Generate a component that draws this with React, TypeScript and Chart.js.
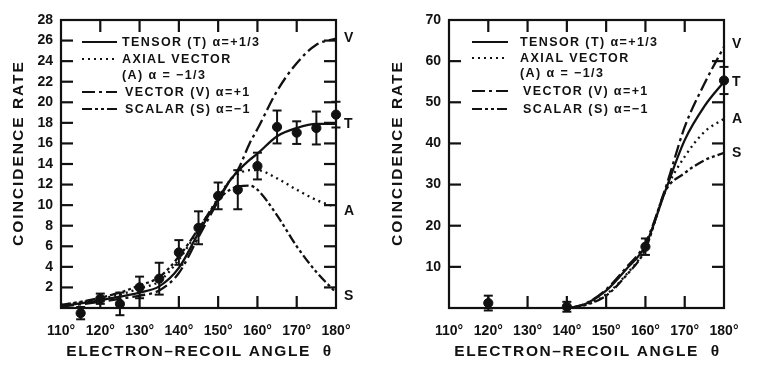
import React, { useEffect, useRef } from 'react';
import { Chart, registerables } from 'chart.js';

Chart.register(...registerables);

// ---------- Left panel data ----------
const L_POINT_ANGLES = [115, 120, 125, 130, 135, 140, 145, 150, 155, 160, 165, 170, 175, 180];
const L_POINT_RATES = [-0.5, 0.9, 0.4, 2.0, 2.85, 5.4, 7.8, 10.9, 11.5, 13.8, 17.6, 17.05, 17.5, 18.8];
const L_POINT_ERRORS = [0.6, 0.5, 1.1, 1.05, 1.55, 1.2, 1.6, 1.3, 1.9, 1.3, 1.6, 1.1, 1.6, 1.25];

const L_CURVE_ANGLES = [110, 115, 120, 125, 130, 135, 140, 145, 150, 153, 155, 158, 160, 165, 170, 175, 180];
const L_TENSOR = [0.2, 0.45, 0.75, 1.1, 1.5, 2.1, 3.9, 7.3, 10.6, 12.4, 13.3, 14.4, 15.0, 16.7, 17.5, 17.9, 17.9];
const L_AXIAL = [0.3, 0.55, 0.9, 1.3, 1.9, 2.6, 4.7, 7.6, 10.7, 12.4, 13.0, 13.4, 13.4, 12.6, 11.5, 10.5, 9.8];
const L_VECTOR = [0.15, 0.35, 0.6, 0.9, 1.2, 1.7, 3.4, 6.9, 10.4, 12.4, 13.4, 16.0, 17.4, 21.1, 23.8, 25.6, 26.2];
const L_SCALAR = [0.3, 0.6, 1.0, 1.5, 2.2, 3.0, 5.0, 7.7, 10.5, 11.5, 11.8, 11.9, 11.5, 9.0, 6.0, 3.5, 1.5];
const L_Y_TICKS = [2, 4, 6, 8, 10, 12, 14, 16, 18, 20, 22, 24, 26];

// ---------- Right panel data ----------
const R_POINT_ANGLES = [120, 140, 160, 180];
const R_POINT_RATES = [1.2, 0.3, 14.9, 55.3];
const R_POINT_ERRORS = [1.8, 1.2, 2.0, 3.3];

const R_CURVE_ANGLES = [141, 145, 150, 155, 160, 165, 170, 175, 180];
const R_TENSOR = [0, 1.1, 4.2, 9.3, 15.2, 28.3, 40.8, 49.0, 55.0];
const R_AXIAL = [0, 0.9, 3.3, 8.0, 14.6, 28.3, 36.8, 42.8, 46.0];
const R_VECTOR = [0, 1.2, 4.5, 9.7, 15.8, 28.8, 44.0, 54.5, 63.5];
const R_SCALAR = [0, 0.8, 3.0, 7.8, 14.3, 28.3, 32.8, 35.9, 37.7];
const R_Y_TICKS = [10, 20, 30, 40, 50, 60];

const X_MARK_ANGLES = [120, 130, 140, 150, 160, 170];

const LEGEND_TEXTS = ['TENSOR (T) α=+1/3', 'AXIAL VECTOR', '(A) α = −1/3', 'VECTOR (V) α=+1', 'SCALAR (S) α=−1'];
const CURVE_LETTERS = ['T', 'A', 'V', 'S'];

const DASH_T: number[] = [];
const DASH_A = [2, 4];
const DASH_V = [13, 4, 3, 4];
const DASH_S = [10, 3, 3, 3, 3, 3];
const CURVE_DASHES = [DASH_T, DASH_A, DASH_V, DASH_S];

const INK = '#111111';
const FONT = '"Liberation Sans", Arial, sans-serif';

const pairs = (xs: number[], ys: number[]) => xs.map((x, i) => ({ x, y: ys[i] }));

type PanelCfg = {
  left: number;
  width: number;
  yMax: number;
  yStep: number;
  yAxisWidth: number;
  padRight: number;
  pointX: number[];
  pointY: number[];
  pointE: number[];
  curveX: number[];
  curves: number[][];
  yMarks: number[];
  legend: { rows: number[]; l0: number; l1: number; tx: number };
  endShift: number[];
  yTitleX: number;
};

function makeDecor(cfg: PanelCfg) {
  return {
    id: 'decor',
    afterDatasetsDraw(chart: any) {
      const { ctx, chartArea: a, scales } = chart;
      const xs = scales.x;
      const ys = scales.y;
      const line = (x1: number, y1: number, x2: number, y2: number) => {
        ctx.beginPath();
        ctx.moveTo(x1, y1);
        ctx.lineTo(x2, y2);
        ctx.stroke();
      };
      ctx.save();
      ctx.strokeStyle = INK;
      ctx.fillStyle = INK;
      ctx.lineWidth = 2.2;
      ctx.setLineDash([]);
      ctx.lineCap = 'butt';
      // frame
      ctx.strokeRect(a.left, a.top, a.right - a.left, a.bottom - a.top);
      const tl = 12;
      cfg.yMarks.forEach((v) => {
        const py = ys.getPixelForValue(v);
        line(a.left, py, a.left + tl, py);
        line(a.right, py, a.right - tl, py);
      });
      X_MARK_ANGLES.forEach((v) => {
        const px = xs.getPixelForValue(v);
        line(px, a.top, px, a.top + tl);
        line(px, a.bottom, px, a.bottom - tl);
      });
      // error bars
      ctx.lineWidth = 2;
      const cap = 4.5;
      cfg.pointX.forEach((xv, i) => {
        const px = xs.getPixelForValue(xv);
        const hi = ys.getPixelForValue(cfg.pointY[i] + cfg.pointE[i]);
        const lo = ys.getPixelForValue(cfg.pointY[i] - cfg.pointE[i]);
        line(px, hi, px, lo);
        line(px - cap, hi, px + cap, hi);
        line(px - cap, lo, px + cap, lo);
      });
      // legend
      ctx.textBaseline = 'middle';
      ctx.textAlign = 'left';
      ctx.font = `bold 12.5px ${FONT}`;
      (ctx as any).letterSpacing = '1.4px';
      const lg = cfg.legend;
      const rows = [
        { dash: CURVE_DASHES[0], y: lg.rows[0], text: LEGEND_TEXTS[0], tx: lg.tx },
        { dash: CURVE_DASHES[1], y: lg.rows[1], text: LEGEND_TEXTS[1], tx: lg.tx },
        { dash: null, y: lg.rows[2], text: LEGEND_TEXTS[2], tx: lg.tx },
        { dash: CURVE_DASHES[2], y: lg.rows[3], text: LEGEND_TEXTS[3], tx: lg.tx + 3 },
        { dash: CURVE_DASHES[3], y: lg.rows[4], text: LEGEND_TEXTS[4], tx: lg.tx + 3 },
      ];
      rows.forEach((r) => {
        if (r.dash) {
          ctx.setLineDash(r.dash);
          ctx.lineWidth = 2.2;
          line(a.left + lg.l0, r.y, a.left + lg.l1, r.y);
          ctx.setLineDash([]);
        }
        ctx.fillText(r.text, a.left + r.tx, r.y + 1);
      });
      // curve end letters
      ctx.font = `bold 14px ${FONT}`;
      (ctx as any).letterSpacing = '0px';
      cfg.curves.forEach((c, i) => {
        ctx.fillText(CURVE_LETTERS[i], a.right + 8, ys.getPixelForValue(c[c.length - 1]) + cfg.endShift[i]);
      });
      // axis titles
      ctx.font = `bold 15.5px ${FONT}`;
      (ctx as any).letterSpacing = '1.6px';
      ctx.textAlign = 'center';
      ctx.fillText('ELECTRON–RECOIL ANGLE  θ', (a.left + a.right) / 2 + 1, 352);
      (ctx as any).letterSpacing = '2px';
      ctx.translate(cfg.yTitleX, 153);
      ctx.rotate(-Math.PI / 2);
      ctx.fillText('COINCIDENCE RATE', 0, 0);
      ctx.restore();
    },
  };
}

function Panel({ cfg }: { cfg: PanelCfg }) {
  const ref = useRef<HTMLCanvasElement>(null);
  useEffect(() => {
    const curveDatasets = cfg.curves.map((ys, i) => ({
      type: 'line' as const,
      data: pairs(cfg.curveX, ys),
      borderColor: INK,
      borderWidth: 2.3,
      borderDash: CURVE_DASHES[i],
      pointRadius: 0,
      cubicInterpolationMode: 'monotone' as const,
      fill: false,
    }));
    const tickFont = { family: FONT, size: 14, weight: 'bold' as const };
    const chart = new Chart(ref.current as HTMLCanvasElement, {
      type: 'line',
      data: {
        datasets: [
          {
            type: 'scatter' as const,
            data: pairs(cfg.pointX, cfg.pointY),
            pointRadius: 4.6,
            pointBackgroundColor: INK,
            pointBorderColor: INK,
            showLine: false,
            clip: false as any,
          } as any,
          ...curveDatasets,
        ],
      },
      options: {
        animation: false,
        responsive: true,
        maintainAspectRatio: false,
        layout: { padding: { top: 20, right: cfg.padRight, left: 0, bottom: 0 } },
        plugins: {
          legend: { display: false },
          tooltip: { enabled: false },
        },
        scales: {
          x: {
            type: 'linear',
            min: 110,
            max: 180,
            grid: { display: false, drawTicks: false },
            border: { display: false },
            ticks: {
              stepSize: 10,
              padding: 15,
              color: INK,
              font: tickFont,
              callback: (v: any) => `${v}°`,
              maxRotation: 0,
            },
            afterFit: (s: any) => {
              s.height = 70;
            },
          },
          y: {
            type: 'linear',
            min: 0,
            max: cfg.yMax,
            grid: { display: false, drawTicks: false },
            border: { display: false },
            ticks: {
              stepSize: cfg.yStep,
              padding: 8,
              color: INK,
              font: tickFont,
              callback: (v: any) => (v === 0 ? '' : `${v}`),
            },
            afterFit: (s: any) => {
              s.width = cfg.yAxisWidth;
            },
          },
        },
      },
      plugins: [makeDecor(cfg)],
    });
    return () => chart.destroy();
  }, []);
  return (
    <div style={{ position: 'absolute', left: cfg.left, top: 0, width: cfg.width, height: 378 }}>
      <canvas ref={ref} />
    </div>
  );
}

const LEFT_CFG: PanelCfg = {
  left: 0,
  width: 380,
  yMax: 28,
  yStep: 2,
  yAxisWidth: 61,
  padRight: 44,
  pointX: L_POINT_ANGLES,
  pointY: L_POINT_RATES,
  pointE: L_POINT_ERRORS,
  curveX: L_CURVE_ANGLES,
  curves: [L_TENSOR, L_AXIAL, L_VECTOR, L_SCALAR],
  yMarks: L_Y_TICKS,
  legend: { rows: [42, 59, 75, 92, 109], l0: 21, l1: 56, tx: 61 },
  endShift: [0, 4, 0, 4],
  yTitleX: 19,
};

const RIGHT_CFG: PanelCfg = {
  left: 380,
  width: 379,
  yMax: 70,
  yStep: 10,
  yAxisWidth: 69,
  padRight: 35,
  pointX: R_POINT_ANGLES,
  pointY: R_POINT_RATES,
  pointE: R_POINT_ERRORS,
  curveX: R_CURVE_ANGLES,
  curves: [R_TENSOR, R_AXIAL, R_VECTOR, R_SCALAR],
  yMarks: R_Y_TICKS,
  legend: { rows: [42, 58, 73, 91, 109], l0: 23, l1: 59, tx: 71 },
  endShift: [0, 0, -3, 0],
  yTitleX: 18,
};

export default function App() {
  return (
    <div style={{ position: 'absolute', left: 0, top: 0, width: 759, height: 378, background: '#fff', overflow: 'hidden' }}>
      <Panel cfg={LEFT_CFG} />
      <Panel cfg={RIGHT_CFG} />
    </div>
  );
}
